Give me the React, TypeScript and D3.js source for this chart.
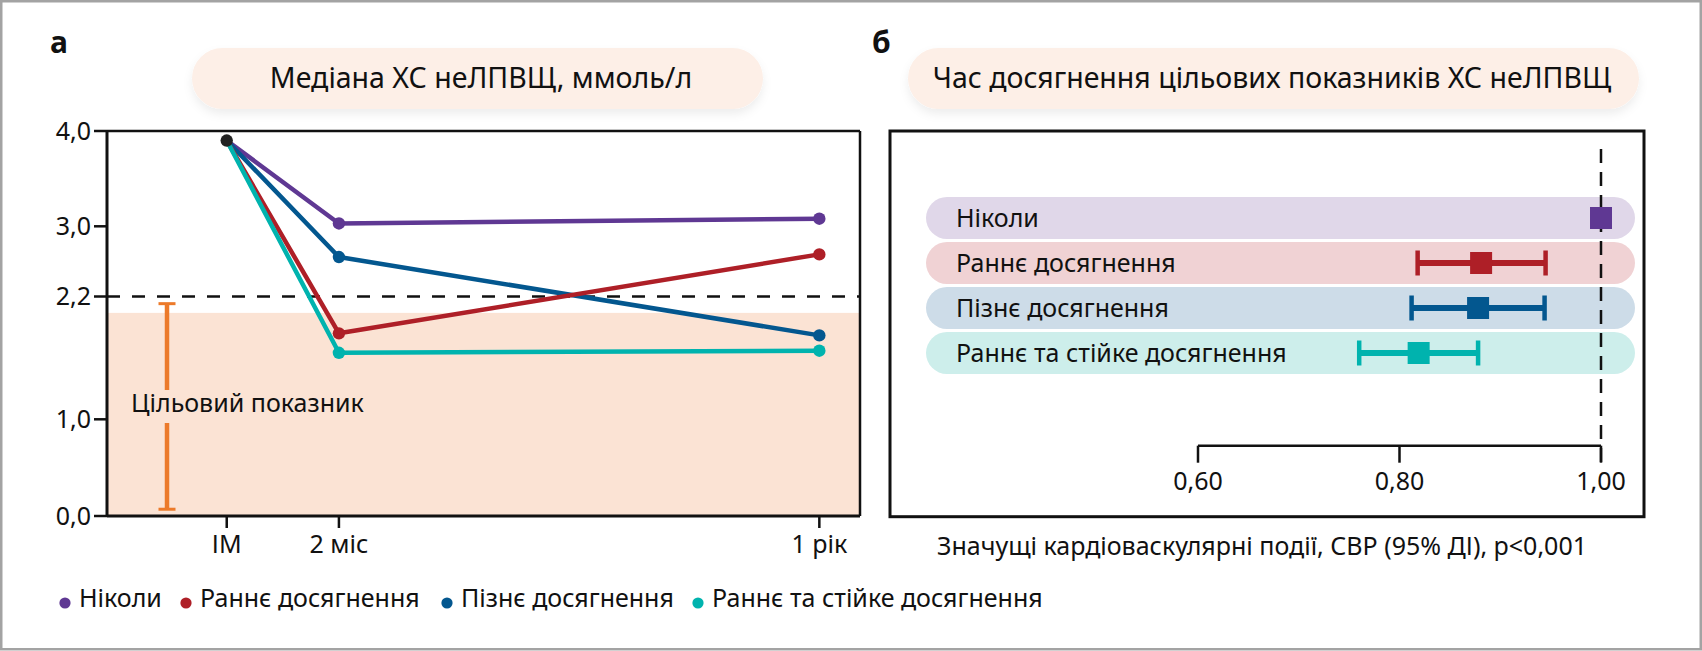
import React from "react";
import * as d3 from "d3";

// ---- data ----
const timeLabels = ["ІМ", "2 міс", "1 рік"];
const seriesNames = [
  "Ніколи",
  "Раннє досягнення",
  "Пізнє досягнення",
  "Раннє та стійке досягнення",
];
const seriesColors = ["#5f3893", "#ae1f27", "#03578f", "#00b3ae"];
const bandColors = ["#e0d7e9", "#f0d2d4", "#cddce8", "#cdeeeb"];

const neverValues = [3.9, 3.03, 3.08];
const earlyValues = [3.9, 1.84, 2.68];
const lateValues = [3.9, 2.65, 1.82];
const sustainedValues = [3.9, 1.65, 1.67];

const yTickValues = [0, 1, 2.2, 3, 4];
const yTickLabels = ["0,0", "1,0", "2,2", "3,0", "4,0"];
const targetLine = 2.2;
const targetZoneTop = 2.04;
const targetBarRange = [0.07, 2.13];

const hrEstimate = [1.0, 0.881, 0.878, 0.819];
const hrLower = [null, 0.818, 0.812, 0.76];
const hrUpper = [null, 0.945, 0.944, 0.878];
const hrTicks = [0.6, 0.8, 1.0];
const hrTickLabels = ["0,60", "0,80", "1,00"];

const FONT = "'Noto Sans', 'DejaVu Sans', sans-serif";

export default function App() {
  const width = 1702;
  const height = 651;

  // panel a
  const a = { left: 107, right: 860, top: 131, bottom: 516 };
  const xPos = d3
    .scaleOrdinal<string, number>()
    .domain(timeLabels)
    .range([0.159, 0.308, 0.946].map((f) => a.left + f * (a.right - a.left)));
  // the figure's axis is drawn schematically: 2,2 sits a little above its linear spot
  const y = d3
    .scaleLinear()
    .domain(yTickValues)
    .range([a.bottom, 419.3, 296.5, 226.3, a.top]);

  const allSeries = [neverValues, earlyValues, lateValues, sustainedValues];
  const drawOrder = [0, 2, 1, 3];
  const line = d3
    .line<number>()
    .x((_, i) => xPos(timeLabels[i]))
    .y((v) => y(v));

  // panel b
  const b = { left: 890, right: 1644, top: 131, bottom: 516.7 };
  const x = d3.scaleLinear().domain([0.6, 1.0]).range([1198, 1601]);
  const rowBand = d3
    .scaleBand()
    .domain(seriesNames)
    .range([197, 374])
    .paddingInner(3 / 45);
  const axisY = 445.7;

  const legendX = [65, 186, 447, 698];

  const labelStyle = { fontFamily: FONT, fontSize: 25, fill: "#111" };
  const titleStyle = { ...labelStyle, fontSize: 28.5 };

  return (
    <svg
      width={width}
      height={height}
      style={{ position: "absolute", left: 0, top: 0, background: "#fff" }}
    >
      <defs>
        <filter id="pillShadow" x="-10%" y="-30%" width="120%" height="180%">
          <feDropShadow dx="0" dy="5" stdDeviation="5" floodColor="#000" floodOpacity="0.07" />
        </filter>
      </defs>

      <rect x={1.25} y={1.25} width={1699.5} height={648} fill="#fff" stroke="#a3a3a3" strokeWidth={2.5} />

      {/* panel letters */}
      <text x={50} y={53} style={{ ...labelStyle, fontSize: 30, fontWeight: 700 }}>а</text>
      <text x={872} y={53} style={{ ...labelStyle, fontSize: 30, fontWeight: 700 }}>б</text>

      {/* title pills */}
      <rect x={192} y={48} width={571} height={61} rx={30.5} fill="#fdefe7" filter="url(#pillShadow)" />
      <text x={481} y={88} textAnchor="middle" style={titleStyle}>
        Медіана ХС неЛПВЩ, ммоль/л
      </text>
      <rect x={908} y={48} width={731} height={61} rx={30.5} fill="#fdefe7" filter="url(#pillShadow)" />
      <text x={1272} y={88} textAnchor="middle" style={titleStyle}>
        Час досягнення цільових показників ХС неЛПВЩ
      </text>

      {/* ===== panel a ===== */}
      <rect
        x={a.left}
        y={y(targetZoneTop)}
        width={a.right - a.left}
        height={a.bottom - y(targetZoneTop)}
        fill="#fbe3d4"
      />
      <line x1={a.left} x2={a.right} y1={y(targetLine)} y2={y(targetLine)} stroke="#111" strokeWidth={2.5} strokeDasharray="13 12" />

      {/* target bar */}
      {(() => {
        const cx = 167;
        const yTop = y(targetBarRange[1]);
        const yBot = y(targetBarRange[0]);
        const c = "#ec7a2a";
        return (
          <g stroke={c} strokeWidth={4.5}>
            <line x1={cx} x2={cx} y1={yTop} y2={390} />
            <line x1={cx} x2={cx} y1={423} y2={yBot} />
            <line x1={cx - 8.5} x2={cx + 8.5} y1={yTop} y2={yTop} strokeWidth={3} />
            <line x1={cx - 8.5} x2={cx + 8.5} y1={yBot} y2={yBot} strokeWidth={3} />
          </g>
        );
      })()}
      <text x={131} y={412} style={labelStyle}>Цільовий показник</text>

      {/* frame */}
      <line x1={a.left} x2={a.right} y1={a.top} y2={a.top} stroke="#111" strokeWidth={2.5} />
      <line x1={a.right} x2={a.right} y1={a.top} y2={a.bottom} stroke="#111" strokeWidth={2.5} />
      <line x1={a.left} x2={a.left} y1={a.top} y2={a.bottom} stroke="#111" strokeWidth={3} />
      <line x1={a.left} x2={a.right} y1={a.bottom} y2={a.bottom} stroke="#111" strokeWidth={3} />

      {yTickValues.map((t, i) => (
        <g key={t}>
          <line x1={a.left - 13} x2={a.left} y1={y(t)} y2={y(t)} stroke="#111" strokeWidth={2.5} />
          <text x={a.left - 16} y={y(t) + 8.5} textAnchor="end" style={labelStyle}>
            {yTickLabels[i]}
          </text>
        </g>
      ))}
      {timeLabels.map((t) => (
        <g key={t}>
          <line x1={xPos(t)} x2={xPos(t)} y1={a.bottom} y2={a.bottom + 12} stroke="#111" strokeWidth={2.5} />
          <text x={xPos(t)} y={553} textAnchor="middle" style={labelStyle}>{t}</text>
        </g>
      ))}

      {/* series lines */}
      {drawOrder.map((si) => (
        <g key={si}>
          <path d={line(allSeries[si]) || ""} fill="none" stroke={seriesColors[si]} strokeWidth={4.5} strokeLinejoin="round" />
          {allSeries[si].slice(1).map((v, j) => (
            <circle key={j} cx={xPos(timeLabels[j + 1])} cy={y(v)} r={6.2} fill={seriesColors[si]} />
          ))}
        </g>
      ))}
      <circle cx={xPos(timeLabels[0])} cy={y(neverValues[0])} r={6.2} fill="#222" />

      {/* legend */}
      {seriesNames.map((name, i) => (
        <g key={name}>
          <circle cx={legendX[i]} cy={603} r={5.6} fill={seriesColors[i]} />
          <text x={legendX[i] + 14} y={607} style={labelStyle}>{name}</text>
        </g>
      ))}

      {/* ===== panel b ===== */}
      {seriesNames.map((name, i) => (
        <g key={name}>
          <rect
            x={926}
            y={rowBand(name)}
            width={1635 - 926}
            height={rowBand.bandwidth()}
            rx={rowBand.bandwidth() / 2}
            fill={bandColors[i]}
          />
          <text x={956} y={(rowBand(name) || 0) + rowBand.bandwidth() / 2 + 8.5} style={labelStyle}>
            {name}
          </text>
        </g>
      ))}

      <line x1={x(1)} x2={x(1)} y1={149} y2={axisY + 17} stroke="#111" strokeWidth={2.5} strokeDasharray="14 9" />

      {seriesNames.map((name, i) => {
        const cy = (rowBand(name) || 0) + rowBand.bandwidth() / 2;
        const lo = hrLower[i];
        const hi = hrUpper[i];
        const c = seriesColors[i];
        return (
          <g key={name}>
            {lo != null && hi != null && (
              <g stroke={c}>
                <line x1={x(lo)} x2={x(hi)} y1={cy} y2={cy} strokeWidth={6} />
                <line x1={x(lo)} x2={x(lo)} y1={cy - 12.5} y2={cy + 12.5} strokeWidth={4.5} />
                <line x1={x(hi)} x2={x(hi)} y1={cy - 12.5} y2={cy + 12.5} strokeWidth={4.5} />
              </g>
            )}
            <rect x={x(hrEstimate[i]) - 11} y={cy - 11} width={22} height={22} fill={c} />
          </g>
        );
      })}

      {/* hr axis */}
      <line x1={x(0.6)} x2={x(1)} y1={axisY} y2={axisY} stroke="#111" strokeWidth={2.5} />
      {hrTicks.map((t, i) => (
        <g key={t}>
          <line x1={x(t)} x2={x(t)} y1={axisY} y2={axisY + 17} stroke="#111" strokeWidth={2.5} />
          <text x={x(t)} y={490} textAnchor="middle" style={labelStyle}>{hrTickLabels[i]}</text>
        </g>
      ))}

      <rect x={b.left} y={b.top} width={b.right - b.left} height={b.bottom - b.top} fill="none" stroke="#111" strokeWidth={3} />

      <text x={1262} y={555} textAnchor="middle" style={labelStyle}>
        Значущі кардіоваскулярні події, СВР (95% ДІ), р&lt;0,001
      </text>
    </svg>
  );
}
